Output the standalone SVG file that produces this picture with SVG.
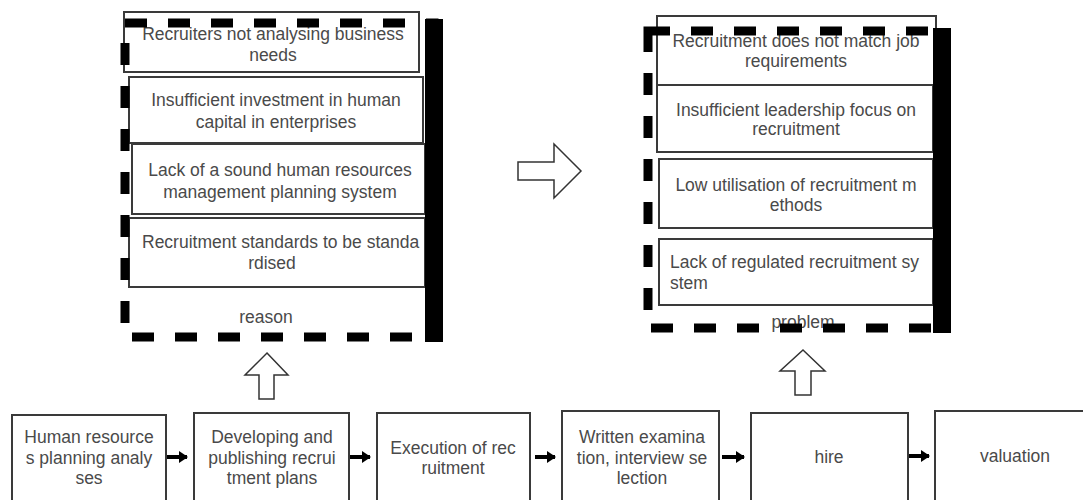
<svg xmlns="http://www.w3.org/2000/svg" width="1083" height="500" viewBox="0 0 1083 500">
<style>
.box{fill:#fff;stroke:#3a3a3a;stroke-width:2}
.t{font-family:"Liberation Sans",Arial,sans-serif;font-size:17.5px;fill:#4a4a4a;text-anchor:middle;dominant-baseline:central}
.tl{text-anchor:start}
.dash{fill:none;stroke:#000;stroke-width:9;stroke-dasharray:22 21}
.bar{fill:#000}
.hollow{fill:#fff;stroke:#333;stroke-width:1.5;stroke-linejoin:miter}
.conn{stroke:#000;stroke-width:4;fill:none}
</style>
<defs>
<marker id="ah" markerWidth="10" markerHeight="14" refX="8" refY="7" orient="auto" markerUnits="userSpaceOnUse">
<path d="M0,1 L9,7 L0,13 Z" fill="#000"/>
</marker>
</defs>
<rect width="1083" height="500" fill="#fff"/>

<!-- Left panel: reason -->
<g id="reason-panel">
<g id="reason-1"><rect class="box" x="124" y="12" width="295" height="60"/>
<text class="t" x="273" y="34">Recruiters not analysing business</text><text class="t" x="273" y="55">needs</text></g>
<g id="reason-2"><rect class="box" x="129" y="77" width="294" height="66"/>
<text class="t" x="276" y="100">Insufficient investment in human</text><text class="t" x="276" y="122">capital in enterprises</text></g>
<g id="reason-3"><rect class="box" x="132" y="144" width="293" height="70"/>
<text class="t" x="280" y="170">Lack of a sound human resources</text><text class="t" x="280" y="192">management planning system</text></g>
<g id="reason-4"><rect class="box" x="129" y="218" width="296" height="69"/>
<text class="t tl" x="142" y="242">Recruitment standards to be standa</text><text class="t" x="272" y="263">rdised</text></g>
<g id="reason-label"><text class="t" x="266" y="317">reason</text></g>
<rect class="dash" x="125" y="23" width="309" height="314"/>
<rect class="bar" x="425" y="19" width="18" height="323"/>
</g>

<!-- Right panel: problem -->
<g id="problem-panel">
<g id="problem-1"><rect class="box" x="657" y="16" width="279" height="69"/>
<text class="t" x="796" y="41">Recruitment does not match job</text><text class="t" x="796" y="61">requirements</text></g>
<g id="problem-2"><rect class="box" x="657" y="85" width="276" height="67"/>
<text class="t" x="796" y="110">Insufficient leadership focus on</text><text class="t" x="796" y="129">recruitment</text></g>
<g id="problem-3"><rect class="box" x="659" y="159" width="274" height="69"/>
<text class="t" x="796" y="185">Low utilisation of recruitment m</text><text class="t" x="796" y="205">ethods</text></g>
<g id="problem-4"><rect class="box" x="659" y="239" width="274" height="66"/>
<text class="t tl" x="670" y="262">Lack of regulated recruitment sy</text><text class="t tl" x="670" y="283">stem</text></g>
<g id="problem-label"><text class="t" x="803" y="322">problem</text></g>
<rect class="dash" x="648" y="31" width="294" height="297"/>
<rect class="bar" x="933" y="28" width="18" height="305"/>
</g>

<!-- Hollow block arrows -->
<g id="block-arrows">
<path class="hollow" d="M518,162 L554,162 L554,144 L581,171 L554,198 L554,180 L518,180 Z"/>
<path class="hollow" d="M267,353 L288,375 L274,375 L274,399 L259,399 L259,375 L245,375 Z"/>
<path class="hollow" d="M803,350 L825,371 L811,371 L811,395 L795,395 L795,371 L780,371 Z"/>
</g>

<!-- Flow nodes -->
<g id="step-1"><rect class="box" x="12" y="415" width="154" height="90"/>
<text class="t" x="89" y="437">Human resource</text><text class="t" x="89" y="458">s planning analy</text><text class="t" x="89" y="478">ses</text></g>
<g id="step-2"><rect class="box" x="194" y="413" width="155" height="92"/>
<text class="t" x="272" y="437">Developing and</text><text class="t" x="272" y="458">publishing recrui</text><text class="t" x="272" y="478">tment plans</text></g>
<g id="step-3"><rect class="box" x="377" y="413" width="153" height="92"/>
<text class="t" x="453" y="448">Execution of rec</text><text class="t" x="453" y="468">ruitment</text></g>
<g id="step-4"><rect class="box" x="562" y="411" width="157" height="94"/>
<text class="t" x="642" y="437">Written examina</text><text class="t" x="642" y="458">tion, interview se</text><text class="t" x="642" y="478">lection</text></g>
<g id="step-5"><rect class="box" x="751" y="413" width="157" height="92"/>
<text class="t" x="829" y="457">hire</text></g>
<g id="step-6"><rect class="box" x="935" y="411" width="152" height="94"/>
<text class="t" x="1015" y="456">valuation</text></g>

<!-- Connectors -->
<g id="connectors">
<line class="conn" x1="167" y1="457" x2="187" y2="457" marker-end="url(#ah)"/>
<line class="conn" x1="350" y1="457" x2="370" y2="457" marker-end="url(#ah)"/>
<line class="conn" x1="535" y1="457" x2="555" y2="457" marker-end="url(#ah)"/>
<line class="conn" x1="722" y1="457" x2="744" y2="457" marker-end="url(#ah)"/>
<line class="conn" x1="909" y1="456" x2="929" y2="456" marker-end="url(#ah)"/>
</g>
</svg>
